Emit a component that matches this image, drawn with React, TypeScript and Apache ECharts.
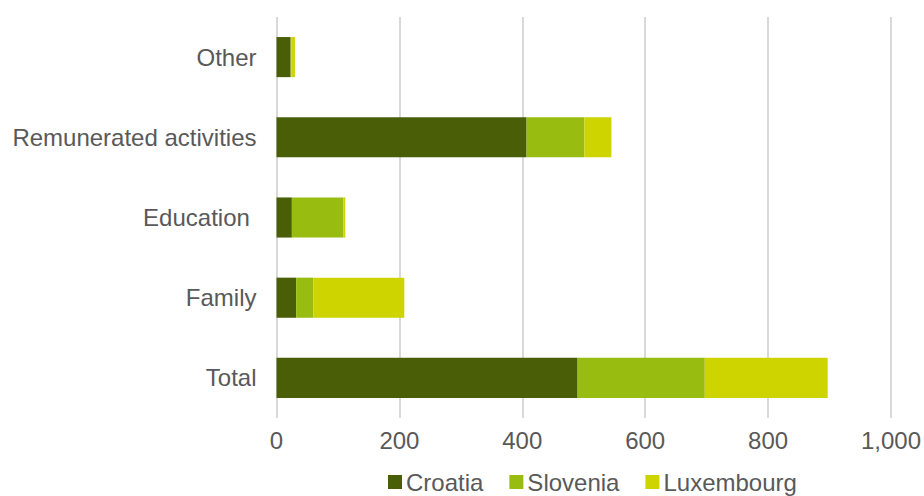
import React, { useEffect, useRef } from "react";
import * as echarts from "echarts";

const categories = ["Other", "Remunerated activities", "Education ", "Family", "Total"];
const croatia = [23, 407, 25, 32, 490];
const slovenia = [1, 94, 84, 28, 207];
const luxembourg = [6, 44, 3, 148, 200];
const seriesNames = ["Croatia", "Slovenia", "Luxembourg"];
const colors = ["#4A5E08", "#98BD10", "#CDD400"];

export default function App() {
  const ref = useRef<HTMLDivElement>(null);
  useEffect(() => {
    const chart = echarts.init(ref.current!, undefined, { renderer: "svg" });
    const data = [croatia, slovenia, luxembourg];
    chart.setOption({
      animation: false,
      textStyle: { fontFamily: "Liberation Sans, Arial, sans-serif" },
      grid: { left: 276.5, right: 30, top: 17, bottom: 78, containLabel: false },
      legend: {
        data: seriesNames,
        left: 383,
        top: 465,
        icon: "rect",
        itemWidth: 14,
        itemHeight: 14,
        itemGap: 26,
        textStyle: { fontSize: 24, color: "#595959", padding: [0, 0, 0, -1] },
      },
      xAxis: {
        type: "value",
        min: 0,
        max: 1000,
        interval: 200,
        axisLine: { show: false },
        axisTick: { show: false },
        axisLabel: {
          fontSize: 24,
          color: "#595959",
          margin: 10,
          formatter: (v: number) => v.toLocaleString("en-US"),
        },
        splitLine: { show: true, lineStyle: { color: "#D9D9D9", width: 2 } },
      },
      yAxis: {
        type: "category",
        data: categories,
        inverse: true,
        axisLine: { show: false },
        axisTick: { show: false },
        axisLabel: { fontSize: 24, color: "#595959", margin: 20 },
      },
      series: seriesNames.map((name, i) => ({
        name,
        type: "bar",
        stack: "total",
        barCategoryGap: "50%",
        data: data[i],
        itemStyle: { color: colors[i] },
      })),
    });
    return () => chart.dispose();
  }, []);
  return (
    <div
      ref={ref}
      style={{ position: "fixed", left: 0, top: 0, width: 924, height: 496, background: "#fff" }}
    />
  );
}
